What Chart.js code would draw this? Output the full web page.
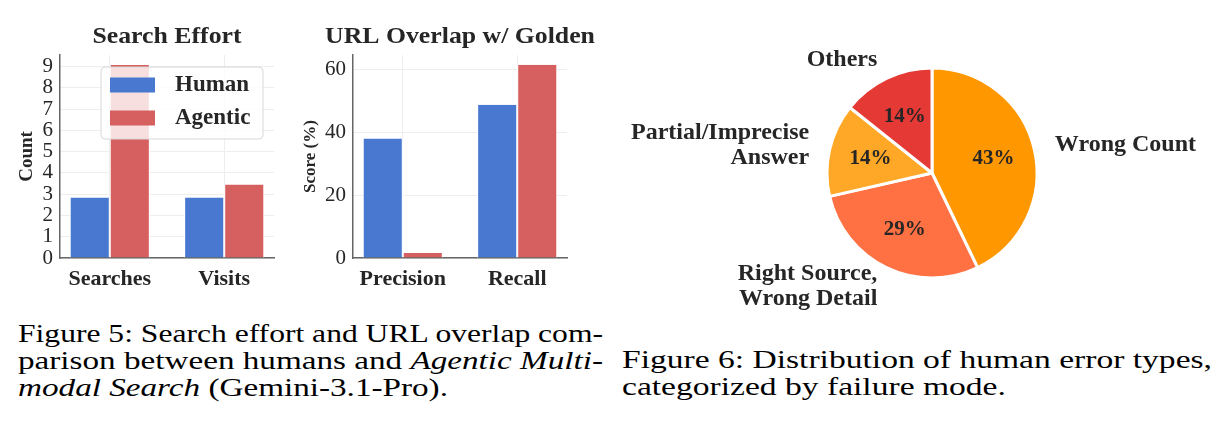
<!DOCTYPE html>
<html>
<head>
<meta charset="utf-8">
<script src="https://cdn.jsdelivr.net/npm/chart.js@4.4.1/dist/chart.umd.min.js"></script>
<style>
  html, body { margin: 0; padding: 0; background: #fff; }
  body { width: 1220px; height: 435px; position: relative; overflow: hidden; font-family: 'Liberation Serif', serif; }
  canvas { position: absolute; }
  #effort { left: 0; top: 0; }
  #overlap { left: 290px; top: 0; }
  #errors { left: 610px; top: 20px; }
  .cap { position: absolute; color: #000; font-size: 26px; line-height: 27px; }
  .cap .ln { position: absolute; left: 0; white-space: nowrap; transform-origin: 0 0; }
</style>
</head>
<body>
<canvas id="effort" width="290" height="300"></canvas>
<canvas id="overlap" width="310" height="300"></canvas>
<canvas id="errors" width="610" height="300"></canvas>

<div class="cap" style="left:18px; top:320px;">
  <div class="ln" data-w="585" style="top:0">Figure 5: Search effort and URL overlap com-</div>
  <div class="ln" data-w="585" style="top:27px">parison between humans and <i>Agentic Multi-</i></div>
  <div class="ln" style="top:54px"><i>modal Search</i> (Gemini-3.1-Pro).</div>
</div>
<div class="cap" style="left:622px; top:346px;">
  <div class="ln" data-w="590" style="top:0">Figure 6: Distribution of human error types,</div>
  <div class="ln" style="top:27px">categorized by failure mode.</div>
</div>

<script>
// Figure 5 data
const effortCategories = ['Searches', 'Visits'];
const effortHuman = [2.85, 2.85];
const effortAgentic = [9.08, 3.46];
const effortTicks = [0, 1, 2, 3, 4, 5, 6, 7, 8, 9];

const overlapCategories = ['Precision', 'Recall'];
const overlapHuman = [38, 48.7];
const overlapAgentic = [1.6, 61.4];
const overlapTicks = [0, 20, 40, 60];

// Figure 6 data
const errorTypes = ['Wrong Count', 'Right Source,\nWrong Detail', 'Partial/Imprecise\nAnswer', 'Others'];
const errorCounts = [3, 2, 1, 1];

const BLUE = '#4878d0';
const RED = '#d65f5f';
const pieColors = ['#ff9800', '#ff7043', '#ffa726', '#e53935'];
const TEXT = '#262626';
const SERIF = '"Liberation Serif", serif';

Chart.defaults.font.family = SERIF;
Chart.defaults.color = TEXT;

// title centred over the plot area (a bit wider, the original face is Palatino-like)
const panelTitle = {
  id: 'panelTitle',
  afterDraw(chart, args, opts) {
    const { ctx, chartArea } = chart;
    ctx.save();
    ctx.translate((chartArea.left + chartArea.right) / 2, opts.y);
    ctx.scale(1.12, 1);
    ctx.font = 'bold 23px ' + SERIF;
    ctx.fillStyle = TEXT;
    ctx.textAlign = 'center';
    ctx.textBaseline = 'middle';
    ctx.fillText(opts.text, 0, 0);
    ctx.restore();
  }
};

// framed legend sitting inside the plot
const boxLegend = {
  id: 'boxLegend',
  afterDatasetsDraw(chart, args, opts) {
    if (!opts.show) return;
    const { ctx, chartArea } = chart;
    const x = chartArea.left + 41, y = chartArea.top + 12;
    ctx.save();
    ctx.beginPath();
    ctx.roundRect(x, y, 162, 72, 4);
    ctx.fillStyle = 'rgba(255,255,255,0.8)';
    ctx.fill();
    ctx.strokeStyle = '#d8d8d8';
    ctx.lineWidth = 1;
    ctx.stroke();
    chart.data.datasets.forEach((ds, i) => {
      const rowY = y + 18 + i * 33;
      ctx.fillStyle = ds.backgroundColor;
      ctx.fillRect(x + 9, rowY - 7.5, 45, 15);
      ctx.fillStyle = TEXT;
      ctx.font = 'bold 23px ' + SERIF;
      ctx.textBaseline = 'middle';
      ctx.fillText(ds.label, x + 74, rowY);
    });
    ctx.restore();
  }
};

function toPoints(values) {
  return values.map((v, i) => ({ x: i, y: v }));
}

function barChart(id, cfg) {
  new Chart(document.getElementById(id), {
    type: 'bar',
    data: {
      datasets: [
        { label: 'Human', data: toPoints(cfg.human), backgroundColor: BLUE, borderColor: '#fff', borderWidth: { left: 1, right: 1 }, borderSkipped: 'bottom' },
        { label: 'Agentic', data: toPoints(cfg.agentic), backgroundColor: RED, borderColor: '#fff', borderWidth: { left: 1, right: 1 }, borderSkipped: 'bottom' }
      ]
    },
    plugins: [panelTitle, boxLegend],
    options: {
      responsive: false,
      animation: false,
      events: [],
      categoryPercentage: 0.7,
      barPercentage: 1.0,
      layout: { padding: { top: 55, right: cfg.right, left: 0, bottom: 0 } },
      plugins: {
        legend: { display: false },
        tooltip: { enabled: false },
        panelTitle: { text: cfg.title, y: 37.5 },
        boxLegend: { show: cfg.legend }
      },
      scales: {
        x: {
          type: 'linear',
          min: -0.435,
          max: 1.435,
          offset: false,
          afterBuildTicks: s => { s.ticks = cfg.categories.map((c, i) => ({ value: i })); },
          afterFit: s => { s.height = 42; },
          ticks: {
            callback: v => cfg.categories[v],
            font: { size: 22, weight: 'bold' },
            color: TEXT,
            padding: 8,
            maxRotation: 0,
            autoSkip: false
          },
          grid: { color: '#eeeeee', drawTicks: false, offset: false },
          border: { color: '#666', width: 1.5 }
        },
        y: {
          min: 0,
          max: cfg.max,
          afterBuildTicks: s => { s.ticks = cfg.ticks.map(v => ({ value: v })); },
          afterFit: s => { s.width = cfg.yWidth; },
          ticks: { font: { size: 21 }, color: TEXT, padding: 7, autoSkip: false },
          grid: { color: '#eeeeee', drawTicks: false },
          border: { color: '#666', width: 1.5 },
          title: {
            display: true,
            text: cfg.yTitle,
            font: { size: cfg.yTitleSize, weight: 'bold' },
            color: TEXT,
            padding: { top: cfg.yTitlePad, bottom: 0 }
          }
        }
      }
    }
  });
}

barChart('effort', {
  title: 'Search Effort',
  categories: effortCategories,
  human: effortHuman,
  agentic: effortAgentic,
  ticks: effortTicks,
  max: 9.55,
  yTitle: 'Count',
  yTitleSize: 19,
  yTitlePad: 15.5,
  yWidth: 60,
  right: 16,
  legend: true
});

barChart('overlap', {
  title: 'URL Overlap w/ Golden',
  categories: overlapCategories,
  human: overlapHuman,
  agentic: overlapAgentic,
  ticks: overlapTicks,
  max: 64.5,
  yTitle: 'Score (%)',
  yTitleSize: 17,
  yTitlePad: 10.5,
  yWidth: 63,
  right: 33,
  legend: false
});

// percentages inside, category names outside
const pieLabels = {
  id: 'pieLabels',
  afterDraw(chart) {
    const { ctx } = chart;
    const values = chart.data.datasets[0].data;
    const total = values.reduce((a, b) => a + b, 0);
    chart.getDatasetMeta(0).data.forEach((arc, i) => {
      const p = arc.getProps(['x', 'y', 'startAngle', 'endAngle', 'outerRadius'], true);
      const mid = (p.startAngle + p.endAngle) / 2;
      const c = Math.cos(mid), s = Math.sin(mid);
      ctx.save();
      ctx.fillStyle = TEXT;
      ctx.textBaseline = 'middle';
      ctx.textAlign = 'center';
      ctx.font = 'bold 21px ' + SERIF;
      ctx.fillText(Math.round(values[i] / total * 100) + '%', p.x + c * p.outerRadius * 0.6, p.y + s * p.outerRadius * 0.6);
      const lines = chart.data.labels[i].split('\n');
      const lx = p.x + c * p.outerRadius * 1.2;
      const ly = p.y + s * p.outerRadius * 1.2;
      ctx.textAlign = c >= 0 ? 'left' : 'right';
      ctx.font = 'bold 24px ' + SERIF;
      lines.forEach((ln, k) => ctx.fillText(ln, lx, ly + (k - (lines.length - 1) / 2) * 25));
      ctx.restore();
    });
  }
};

new Chart(document.getElementById('errors'), {
  type: 'pie',
  data: {
    labels: errorTypes,
    datasets: [{ data: errorCounts, backgroundColor: pieColors, borderColor: '#fff', borderWidth: 3 }]
  },
  plugins: [pieLabels],
  options: {
    responsive: false,
    animation: false,
    events: [],
    radius: 105,
    layout: { padding: { left: 212, right: 178, top: 43, bottom: 37 } },
    plugins: { legend: { display: false }, tooltip: { enabled: false } }
  }
});

// stretch caption lines to the measured column widths
document.querySelectorAll('.cap').forEach(cap => {
  let scale = 1;
  cap.querySelectorAll('.ln').forEach(ln => {
    const w = ln.getBoundingClientRect().width;
    if (ln.dataset.w) scale = parseFloat(ln.dataset.w) / w;
    ln.style.transform = 'scaleX(' + scale + ')';
  });
});
</script>
</body>
</html>
